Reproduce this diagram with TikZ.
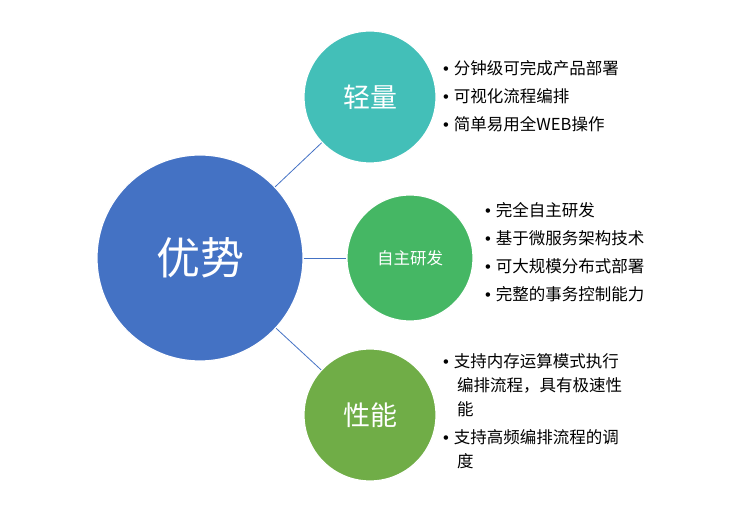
\documentclass[tikz,border=0pt]{standalone}
\usepackage{fontspec}
\newfontfamily\cjk{Noto Sans CJK SC}
\newfontfamily\lib{Liberation Sans}
\newcommand{\bul}{{\lib •}\hspace{5pt}}
\definecolor{cbig}{HTML}{4472C4}
\definecolor{cteal}{HTML}{43BFB8}
\definecolor{cgreen}{HTML}{45B764}
\definecolor{clgreen}{HTML}{70AD47}
\begin{document}
\begin{tikzpicture}[x=1pt,y=-1pt,
  circ/.style={circle,draw=white,line width=1.2pt,inner sep=0pt,text=white},
  link/.style={draw=cbig,line width=0.8pt},
  lst/.style={anchor=north west,align=left,font=\cjk\fontsize{16.5}{28}\selectfont,inner sep=0pt}]
\useasboundingbox (0,0) rectangle (755,518);
\node[circ,fill=cbig,minimum size=206pt,font=\cjk\fontsize{44}{46}\selectfont] (big) at (200,258) {优势};
\node[circ,fill=cteal,minimum size=132pt,font=\cjk\fontsize{27}{29}\selectfont] (top) at (370,97) {轻量};
\node[circ,fill=cgreen,minimum size=126pt,font=\cjk\fontsize{16.5}{18}\selectfont] (mid) at (410,258) {自主研发};
\node[circ,fill=clgreen,minimum size=132pt,font=\cjk\fontsize{27}{29}\selectfont] (bot) at (370,415) {性能};
\draw[link] (big) -- (top);
\draw[link] (big) -- (mid);
\draw[link] (big) -- (bot);
\node[lst] (t1) at (443,60) {\bul 分钟级可完成产品部署\\\bul 可视化流程编排\\\bul 简单易用全WEB操作};
\node[lst] (m1) at (485,202) {\bul 完全自主研发\\\bul 基于微服务架构技术\\\bul 可大规模分布式部署\\\bul 完整的事务控制能力};
\node[lst,font=\cjk\fontsize{16.5}{24}\selectfont] (b1) at (443,353) {\bul 支持内存运算模式执行\\\hspace*{14pt}编排流程，具有极速性\\\hspace*{14pt}能\\[4pt]\bul 支持高频编排流程的调\\\hspace*{14pt}度};
\end{tikzpicture}
\end{document}
